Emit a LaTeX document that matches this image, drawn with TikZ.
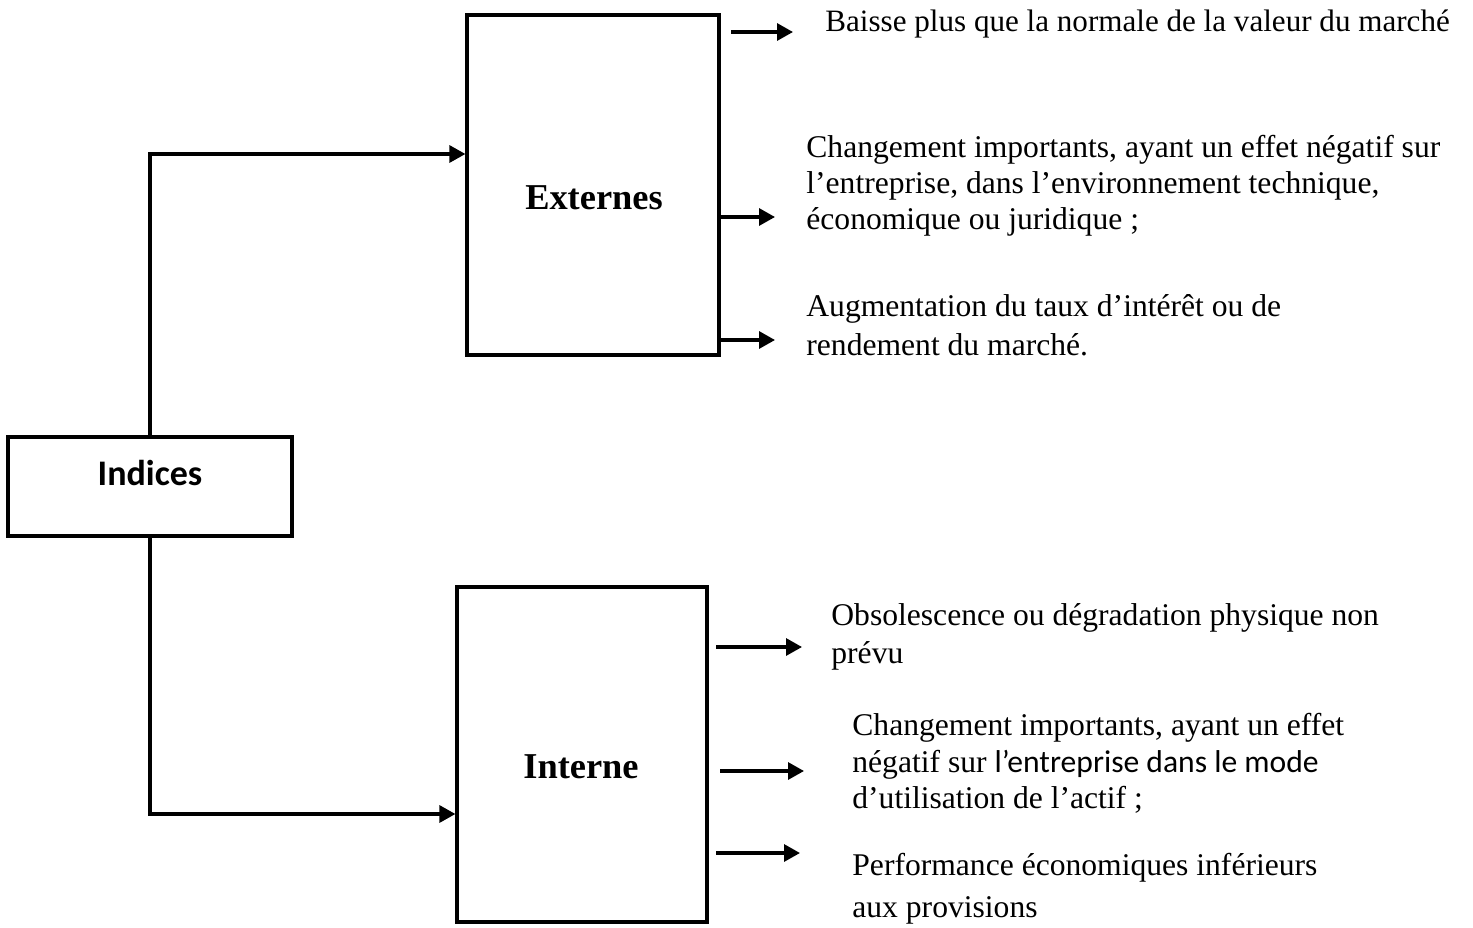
\documentclass[tikz,border=0pt]{standalone}
\usepackage{fontspec}
\setmainfont{Liberation Serif}
\newfontfamily\calibri{Carlito}
\usetikzlibrary{arrows.meta}
\begin{document}
\begin{tikzpicture}[x=0.5pt,y=-0.5pt,
  box/.style={draw,line width=1.6pt,inner sep=0pt},
  conn/.style={line width=1.6pt,-{Triangle[length=8pt,width=8.5pt]}},
  txt/.style={anchor=west,align=left,inner sep=0pt,font=\fontsize{15.8}{18}\selectfont},
  title/.style={inner sep=0pt,font=\fontsize{18.2}{20}\selectfont\bfseries}]
\useasboundingbox (0,0) rectangle (1473,927);
% boxes
\node[box,minimum width=126pt,minimum height=170pt] (ext) at (593,185) {};
\node[box,minimum width=125pt,minimum height=167.5pt] (int) at (582,754.5) {};
\node[box,minimum width=142pt,minimum height=49.5pt] (ind) at (150,486.5) {};
\node[title] (extl) at (594,198) {Externes};
\node[title] (intl) at (581,767) {Interne};
\node[title,font=\fontsize{18}{20}\selectfont\calibri\bfseries] (indl) at (150,473) {Indices};
% connectors from Indices
\coordinate (e1) at (ext.west |- 0,154);
\coordinate (i1) at (int.west |- 0,814);
\draw[conn] (ind.north) |- (e1);
\draw[conn] (ind.south) |- (i1);
% texts
\node[txt,font=\fontsize{15.55}{18}\selectfont] (t1) at (825,24) {Baisse plus que la normale de la valeur du marché};
\node[txt] (t2) at (806,186) {Changement importants, ayant un effet négatif sur\\l’entreprise, dans l’environnement technique,\\économique ou juridique ;};
\node[txt,font=\fontsize{15.8}{19.5}\selectfont] (t3) at (806,325) {Augmentation du taux d’intérêt ou de\\rendement du marché.};
\node[txt,font=\fontsize{15.8}{19}\selectfont] (t4) at (831,637) {Obsolescence ou dégradation physique non\\prévu};
\node[txt,font=\fontsize{15.8}{18.2}\selectfont] (t5) at (852,763.5) {Changement importants, ayant un effet\\négatif sur {\calibri l’entreprise dans le mode}\\d’utilisation de l’actif ;};
\node[txt,font=\fontsize{15.8}{21}\selectfont] (t6) at (852,889) {Performance économiques inférieurs\\aux provisions};
% right arrows
\coordinate (a1s) at (731,32);  \coordinate (a1e) at (793,32);
\coordinate (a2s) at (ext.east |- 0,217); \coordinate (a2e) at (775,217);
\coordinate (a3s) at (ext.east |- 0,340); \coordinate (a3e) at (775,340);
\coordinate (b1s) at (716,647); \coordinate (b1e) at (802,647);
\coordinate (b2s) at (720,771); \coordinate (b2e) at (804,771);
\coordinate (b3s) at (716,853); \coordinate (b3e) at (800,853);
\draw[conn] (a1s) -- (a1e);
\draw[conn] (a2s) -- (a2e);
\draw[conn] (a3s) -- (a3e);
\draw[conn] (b1s) -- (b1e);
\draw[conn] (b2s) -- (b2e);
\draw[conn] (b3s) -- (b3e);
\end{tikzpicture}
\end{document}
